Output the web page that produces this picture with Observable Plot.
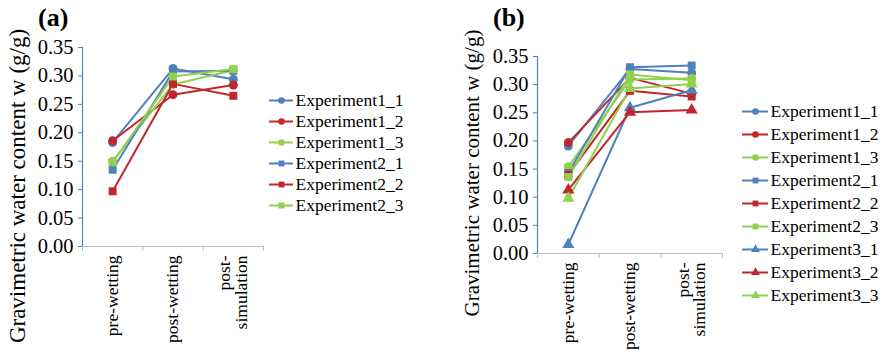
<!DOCTYPE html>
<html>
<head>
<meta charset="utf-8">
<script src="https://cdn.jsdelivr.net/npm/d3@7"></script>
<script src="https://cdn.jsdelivr.net/npm/@observablehq/plot@0.6"></script>
<style>
  body { margin: 0; background: #fff; }
  #root { position: relative; width: 880px; height: 358px; overflow: hidden; font-family: "Liberation Serif", serif; color: #000; }
  #root svg, #root svg text { font-family: "Liberation Serif", serif !important; }
  .tag { position: absolute; font-weight: bold; font-size: 26px; line-height: 30px; }
  .ytitle { position: absolute; white-space: nowrap; transform: translate(-50%, -50%) rotate(-90deg); line-height: 1; }
</style>
</head>
<body>
<div id="root"></div>
<script>
// Sampling stages along the x axis
const stages = ["pre-wetting", "post-wetting", "post-\nsimulation"];
const yTicks = [0, 0.05, 0.10, 0.15, 0.20, 0.25, 0.30, 0.35];

// Panel (a): gravimetric water content (g/g) per run, one row per series
const seriesA = ["Experiment1_1", "Experiment1_2", "Experiment1_3", "Experiment2_1", "Experiment2_2", "Experiment2_3"];
const valuesA = [
  [0.183, 0.313, 0.294],
  [0.186, 0.267, 0.284],
  [0.150, 0.285, 0.310],
  [0.135, 0.308, 0.309],
  [0.097, 0.286, 0.265],
  [0.148, 0.299, 0.312]
];

// Panel (b)
const seriesB = ["Experiment1_1", "Experiment1_2", "Experiment1_3", "Experiment2_1", "Experiment2_2", "Experiment2_3", "Experiment3_1", "Experiment3_2", "Experiment3_3"];
const valuesB = [
  [0.191, 0.328, 0.321],
  [0.197, 0.312, 0.284],
  [0.154, 0.309, 0.311],
  [0.143, 0.331, 0.334],
  [0.140, 0.289, 0.279],
  [0.136, 0.318, 0.308],
  [0.016, 0.259, 0.290],
  [0.113, 0.251, 0.255],
  [0.098, 0.293, 0.301]
];

const yTitle = "Gravimetric water content w (g/g)";

const BLUE = "#4f81bd", RED = "#c0272d", GREEN = "#92d050";
const colorScale = {domain: ["1", "2", "3"], range: [BLUE, RED, GREEN]};
const symbolScale = {domain: ["1", "2", "3"], range: ["circle", "square", "triangle"]};
const expOf = (name) => name.replace("Experiment", "").split("_")[0];
const repOf = (name) => name.split("_")[1];
const FONT = "Liberation Serif, serif";

function chartPanel({series, values, width, height, ml, mr, mt, mb}) {
  const rows = series.flatMap((s, i) => values[i].map((w, j) => ({series: s, exp: expOf(s), rep: repOf(s), stage: j + 0.5, w})));
  const bounds = stages.map((_, i) => i).concat([stages.length]);
  return Plot.plot({
    width, height,
    marginLeft: ml, marginRight: mr, marginTop: mt, marginBottom: mb,
    style: {fontFamily: FONT, fontSize: "20.5px", color: "#000", background: "transparent", overflow: "visible"},
    x: {domain: [0, stages.length], axis: null},
    y: {domain: [0, 0.35], axis: null},
    color: colorScale,
    symbol: symbolScale,
    marks: [
      Plot.axisX({ticks: bounds, tickFormat: () => "", tickSize: 5, stroke: "#bfbfbf", label: null}),
      Plot.ruleY([0], {stroke: "#bfbfbf", strokeWidth: 1.2}),
      Plot.axisY({ticks: yTicks, tickFormat: ".2f", tickSize: 4, tickPadding: 5, stroke: BLUE, fill: "#000", label: null}),
      Plot.ruleX([0], {stroke: BLUE, strokeWidth: 1.2}),
      Plot.text(stages, {x: (d, i) => i + 0.5, y: 0, text: (d) => d, rotate: -90, textAnchor: "end", lineAnchor: "middle", dy: 9, fontSize: 17.5, lineHeight: 0.95, fill: "#000"}),
      Plot.line(rows, {x: "stage", y: "w", z: "series", stroke: "rep", strokeWidth: 2}),
      Plot.dot(rows, {x: "stage", y: "w", symbol: "exp", fill: "rep", r: 4.5})
    ]
  });
}

function legendPanel({series, width, height, y0, y1, lineLen}) {
  return Plot.plot({
    width, height, margin: 0,
    style: {fontFamily: FONT, fontSize: "17.5px", color: "#000", background: "transparent", overflow: "visible"},
    x: {domain: [0, 1], range: [0, lineLen], axis: null},
    y: {type: "point", domain: series, range: [y0, y1], axis: null},
    color: colorScale,
    symbol: symbolScale,
    marks: [
      Plot.ruleY(series, {y: (d) => d, x1: 0, x2: 1, stroke: (d) => repOf(d), strokeWidth: 2}),
      Plot.dot(series, {x: 0.5, y: (d) => d, symbol: (d) => expOf(d), fill: (d) => repOf(d), r: 3.3}),
      Plot.text(series, {x: 1, y: (d) => d, text: (d) => d, textAnchor: "start", dx: 2, fill: "#000", fontSize: 17.5})
    ]
  });
}

const root = document.getElementById("root");
function place(el, left, top) {
  el.style.position = "absolute";
  el.style.left = left + "px";
  el.style.top = top + "px";
  root.appendChild(el);
  return el;
}
function label(text, cls, left, top, extra = {}) {
  const d = document.createElement("div");
  d.className = cls;
  d.textContent = text;
  Object.assign(d.style, extra);
  d.style.left = left + "px";
  d.style.top = top + "px";
  root.appendChild(d);
  return d;
}

// Panel (a)
place(chartPanel({series: seriesA, values: valuesA, width: 270, height: 358, ml: 82, mr: 7, mt: 47, mb: 112}), 0, 0);
place(legendPanel({series: seriesA, width: 170, height: 358, y0: 87, y1: 218, lineLen: 24}), 269, 0);
label("(a)", "tag", 38, 3);
label(yTitle, "ytitle", 17, 186, {fontSize: "23px"});

// Panel (b)
place(chartPanel({series: seriesB, values: valuesB, width: 290, height: 358, ml: 97, mr: 8, mt: 56, mb: 105}), 440, 0);
place(legendPanel({series: seriesB, width: 140, height: 358, y0: 97, y1: 308, lineLen: 26}), 742, 0);
label("(b)", "tag", 493, 3);
label(yTitle, "ytitle", 472, 173, {fontSize: "21px"});
</script>
</body>
</html>
